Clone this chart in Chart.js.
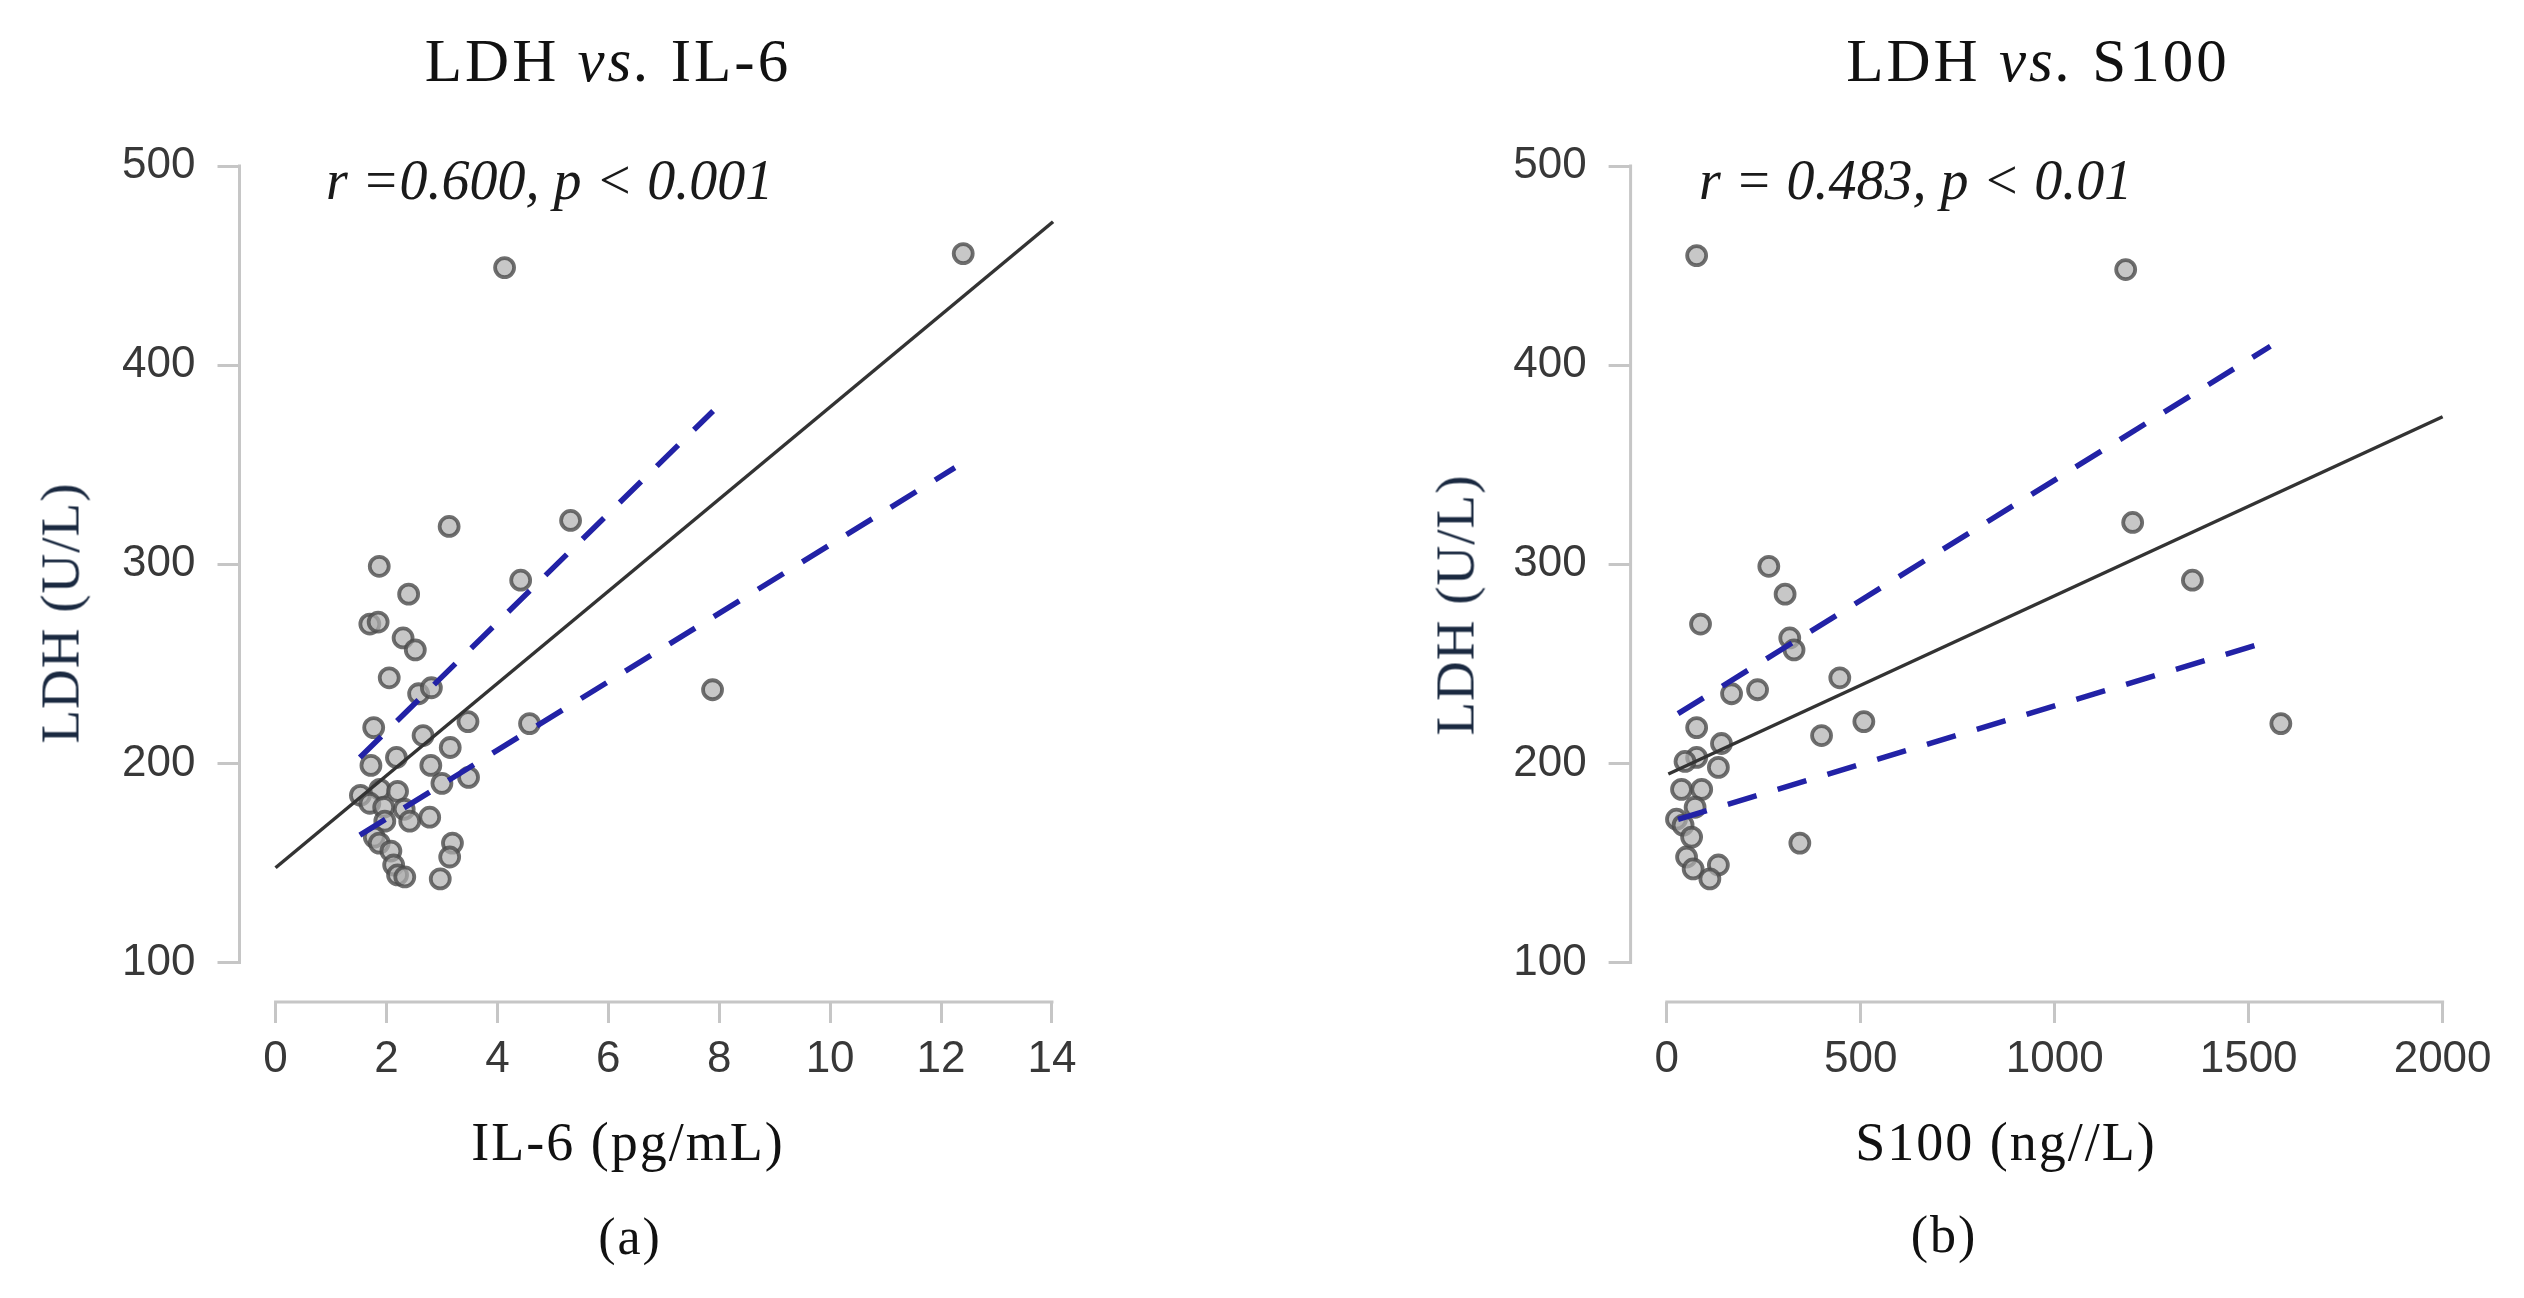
<!DOCTYPE html>
<html>
<head>
<meta charset="utf-8">
<script src="https://cdn.jsdelivr.net/npm/chart.js@4.4.1/dist/chart.umd.min.js"></script>
<style>
  html, body { margin: 0; padding: 0; background: #fff; }
  #page { position: relative; width: 2524px; height: 1298px; overflow: hidden; background: #fff; }
  canvas { position: absolute; top: 0; }
  .txt { position: absolute; white-space: nowrap; line-height: 1; font-family: 'Liberation Serif', 'Times New Roman', serif; color: #111; }
  .c { transform: translate(-50%, -50%); }
  .l { transform: translateY(-50%); }
  .title { font-size: 61px; letter-spacing: 3px; }
  .note { font-size: 56px; font-style: italic; color: #1a1a1a; }
  .xt { font-size: 54px; letter-spacing: 2px; }
  .yt { font-size: 55px; letter-spacing: 1px; color: #1a2940; transform: translate(-50%, -50%) rotate(-90deg); }
  .sub { font-size: 52px; letter-spacing: 2px; }
</style>
</head>
<body>
<div id="page">
  <canvas id="chartA" width="1262" height="1298" style="left:0"></canvas>
  <canvas id="chartB" width="1262" height="1298" style="left:1262px"></canvas>

  <div class="txt title c" style="left:608px; top:60px">LDH <i>vs.</i> IL-6</div>
  <div class="txt title c" style="left:2038px; top:60px">LDH <i>vs.</i> S100</div>

  <div class="txt note l" style="left:326px; top:180px">r =0.600, p &lt; 0.001</div>
  <div class="txt note l" style="left:1699px; top:180px">r = 0.483, p &lt; 0.01</div>

  <div class="txt yt" style="left:60px; top:613px">LDH (U/L)</div>
  <div class="txt yt" style="left:1455px; top:605px">LDH (U/L)</div>

  <div class="txt xt c" style="left:628px; top:1142px">IL-6 (pg/mL)</div>
  <div class="txt xt c" style="left:2006px; top:1142px">S100 (ng//L)</div>

  <div class="txt sub c" style="left:630px; top:1237px">(a)</div>
  <div class="txt sub c" style="left:1944px; top:1235px">(b)</div>
</div>

<script>
// --- data ---
const LDH_TICKS = [100, 200, 300, 400, 500];
const IL6_TICKS = [0, 2, 4, 6, 8, 10, 12, 14];
const S100_TICKS = [0, 500, 1000, 1500, 2000];

// panel (a): IL-6 (pg/mL) vs LDH (U/L)
const IL6_X = [4.13, 12.4, 3.13, 5.32, 1.87, 4.42, 2.40, 1.70, 1.85, 2.30, 2.52, 2.05, 2.58, 2.81, 7.88,
               1.77, 4.58, 3.47, 2.66, 2.18, 3.15, 1.72, 2.80, 3.48, 3.00, 1.53, 1.88, 2.20, 1.70, 1.95,
               2.32, 2.78, 2.42, 1.97, 1.78, 1.87, 3.19, 3.14, 2.08, 2.13, 2.20, 2.33, 2.97];
const IL6_LDH = [449, 456, 319, 322, 299, 292, 285, 270, 271, 263, 257, 243, 235, 238, 237,
                 218, 220, 221, 214, 203, 208, 199, 199, 193, 190, 184, 187, 186, 180, 178,
                 177, 173, 171, 171, 163, 160, 160, 153, 156, 149, 144, 143, 142];
const IL6_FIT_X = [0, 14.02];
const IL6_FIT_Y = [147.6, 472];
const IL6_UPPER_X = [1.52, 7.89];
const IL6_UPPER_Y = [203, 377];
const IL6_LOWER_X = [1.52, 12.25];
const IL6_LOWER_Y = [164, 348.5];

// panel (b): S100 (ng/L) vs LDH (U/L)
const S100_X = [77, 1183, 1201, 1355, 1583, 263, 305, 87, 317, 328, 234, 167, 446, 508, 399, 77,
                141, 133, 77, 47, 38, 90, 73, 25, 42, 64, 51, 68, 133, 111, 343];
const S100_LDH = [455, 448, 321, 292, 220, 299, 285, 270, 263, 257, 237, 235, 243, 221, 214, 218,
                  210, 198, 203, 201, 187, 187, 178, 172, 169, 163, 153, 147, 149, 142, 160];
const S100_FIT_X = [4, 2000];
const S100_FIT_Y = [194.7, 374.1];
const S100_UPPER_X = [29, 1556];
const S100_UPPER_Y = [225, 409.5];
const S100_LOWER_X = [29, 1529];
const S100_LOWER_Y = [171.9, 260];

const AXIS_COLOR = '#c6c6c6';
const TICK_FONT = { family: "'Liberation Sans', Arial, sans-serif", size: 44 };

function pairs(xs, ys) {
    return xs.map((x, i) => ({ x: x, y: ys[i] }));
}

// R style axes: the line only runs between the first and last tick
const rAxisLines = {
    id: 'rAxisLines',
    afterDraw(chart) {
        const { ctx, chartArea } = chart;
        const x = chart.scales.x, y = chart.scales.y;
        const xt = x.ticks, yt = y.ticks;
        ctx.save();
        ctx.strokeStyle = AXIS_COLOR;
        ctx.lineWidth = 3;
        ctx.beginPath();
        ctx.moveTo(chartArea.left, y.getPixelForValue(yt[0].value) + 1.5);
        ctx.lineTo(chartArea.left, y.getPixelForValue(yt[yt.length - 1].value) - 1.5);
        ctx.moveTo(x.getPixelForValue(xt[0].value) - 1.5, chartArea.bottom);
        ctx.lineTo(x.getPixelForValue(xt[xt.length - 1].value) + 1.5, chartArea.bottom);
        ctx.stroke();
        ctx.restore();
    }
};

function makePanel(canvasId, p) {
    const lineStyle = (color, width, dash) => ({
        showLine: true, borderColor: color, borderWidth: width, borderDash: dash,
        pointRadius: 0, pointHoverRadius: 0, fill: false
    });

    const config = {
        type: 'scatter',
        data: {
            datasets: [
                Object.assign({ label: 'fit', data: pairs(p.fitX, p.fitY) }, lineStyle('#333333', 3.5, [])),
                Object.assign({ label: 'upper', data: pairs(p.upX, p.upY) }, lineStyle('#2222a6', 5.5, [30, 22])),
                Object.assign({ label: 'lower', data: pairs(p.loX, p.loY) }, lineStyle('#2222a6', 5.5, [30, 22])),
                {
                    label: 'points',
                    data: pairs(p.xs, p.ys),
                    pointRadius: 9.5,
                    pointBorderWidth: 3.8,
                    pointBorderColor: 'rgba(75,75,75,0.8)',
                    pointBackgroundColor: 'rgba(175,175,175,0.7)',
                    showLine: false
                }
            ]
        },
        options: {
            responsive: false,
            animation: false,
            devicePixelRatio: 1,
            layout: { padding: { left: 0, top: 120, right: p.padRight, bottom: 0 } },
            plugins: { legend: { display: false }, tooltip: { enabled: false } },
            scales: {
                x: {
                    type: 'linear',
                    min: p.xMin, max: p.xMax,
                    afterBuildTicks: s => { s.ticks = p.xTicks.map(v => ({ value: v })); },
                    afterFit: s => { s.height = 296; },
                    border: { display: false },
                    grid: { display: true, drawOnChartArea: false, drawTicks: true, tickLength: 21, color: AXIS_COLOR, lineWidth: 3 },
                    ticks: { font: TICK_FONT, color: '#383838', padding: 10, autoSkip: false, maxRotation: 0, callback: v => String(v) }
                },
                y: {
                    type: 'linear',
                    min: 80.2, max: 523.1,
                    afterBuildTicks: s => { s.ticks = LDH_TICKS.map(v => ({ value: v })); },
                    afterFit: s => { s.width = p.yWidth; },
                    border: { display: false },
                    grid: { display: true, drawOnChartArea: false, drawTicks: true, tickLength: 22, color: AXIS_COLOR, lineWidth: 3 },
                    ticks: { font: TICK_FONT, color: '#383838', padding: 22, callback: v => String(v) }
                }
            }
        },
        plugins: [rAxisLines]
    };

    return new Chart(document.getElementById(canvasId).getContext('2d'), config);
}

makePanel('chartA', {
    xs: IL6_X, ys: IL6_LDH,
    fitX: IL6_FIT_X, fitY: IL6_FIT_Y,
    upX: IL6_UPPER_X, upY: IL6_UPPER_Y,
    loX: IL6_LOWER_X, loY: IL6_LOWER_Y,
    xTicks: IL6_TICKS, xMin: -0.65, xMax: 14.65,
    yWidth: 239.5, padRight: 174
});

makePanel('chartB', {
    xs: S100_X, ys: S100_LDH,
    fitX: S100_FIT_X, fitY: S100_FIT_Y,
    upX: S100_UPPER_X, upY: S100_UPPER_Y,
    loX: S100_LOWER_X, loY: S100_LOWER_Y,
    xTicks: S100_TICKS, xMin: -93.3, xMax: 2093.3,
    yWidth: 368.6, padRight: 45.2
});
</script>
</body>
</html>
